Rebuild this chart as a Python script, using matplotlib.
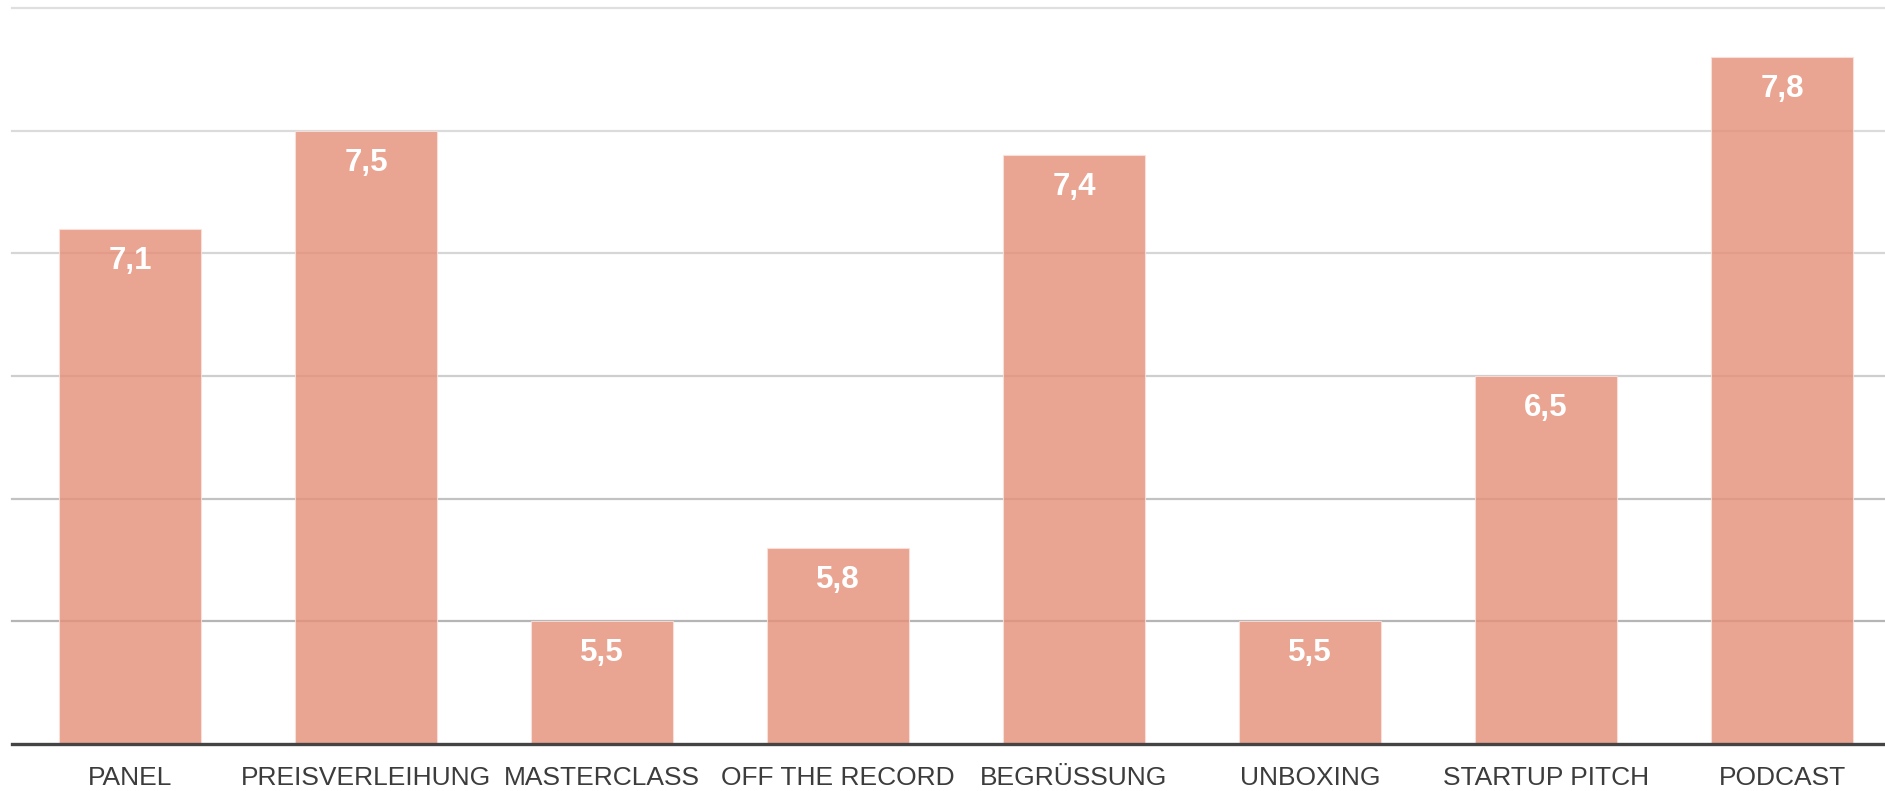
import matplotlib
matplotlib.use("Agg")
import matplotlib.pyplot as plt

categories = ["PANEL", "PREISVERLEIHUNG", "MASTERCLASS", "OFF THE RECORD",
              "BEGRÜSSUNG", "UNBOXING", "STARTUP PITCH", "PODCAST"]
values = [7.1, 7.5, 5.5, 5.8, 7.4, 5.5, 6.5, 7.8]
grid_levels = [5.5, 6.0, 6.5, 7.0, 7.5, 8.0]
grid_colors = ["#b5b5b5", "#c2c2c2", "#cecece", "#d6d6d6", "#dbdbdb", "#dfdfdf"]

plt.rcParams['font.family'] = ['Liberation Sans', 'DejaVu Sans']

W, H = 1885, 791
fig = plt.figure(figsize=(W / 100, H / 100), dpi=100)
ax = fig.add_axes([12 / W, (H - 744) / H, (W - 12) / W, 736 / H])

for lvl, c in zip(grid_levels, grid_colors):
    ax.axhline(lvl, color=c, linewidth=1.6, zorder=1, clip_on=False)

x = list(range(len(categories)))
bars = ax.bar(x, [v - 5.0 for v in values], bottom=5.0, width=0.6,
              color="#e6907a", alpha=0.82, edgecolor="#fbe3dc", linewidth=0.8, zorder=2)

for xi, v in zip(x, values):
    ax.annotate(f"{v:.1f}".replace(".", ","), xy=(xi, v), xytext=(0, -32),
                textcoords="offset pixels", ha="center", va="center",
                color="white", fontsize=22.5, fontweight="bold", zorder=3)

ax.set_xlim(-0.5, 7.436)
ax.set_ylim(5.0, 8.0)
ax.set_xticks(x)
ax.set_xticklabels(categories, fontsize=19, color="#3c3c3c")
ax.tick_params(axis="x", length=0, pad=16)
ax.set_yticks([])
for s in ["top", "right", "left"]:
    ax.spines[s].set_visible(False)
ax.spines["bottom"].set_color("#444444")
ax.spines["bottom"].set_linewidth(2.4)
ax.spines["bottom"].set_zorder(4)

fig.savefig("out.png", dpi=100)
